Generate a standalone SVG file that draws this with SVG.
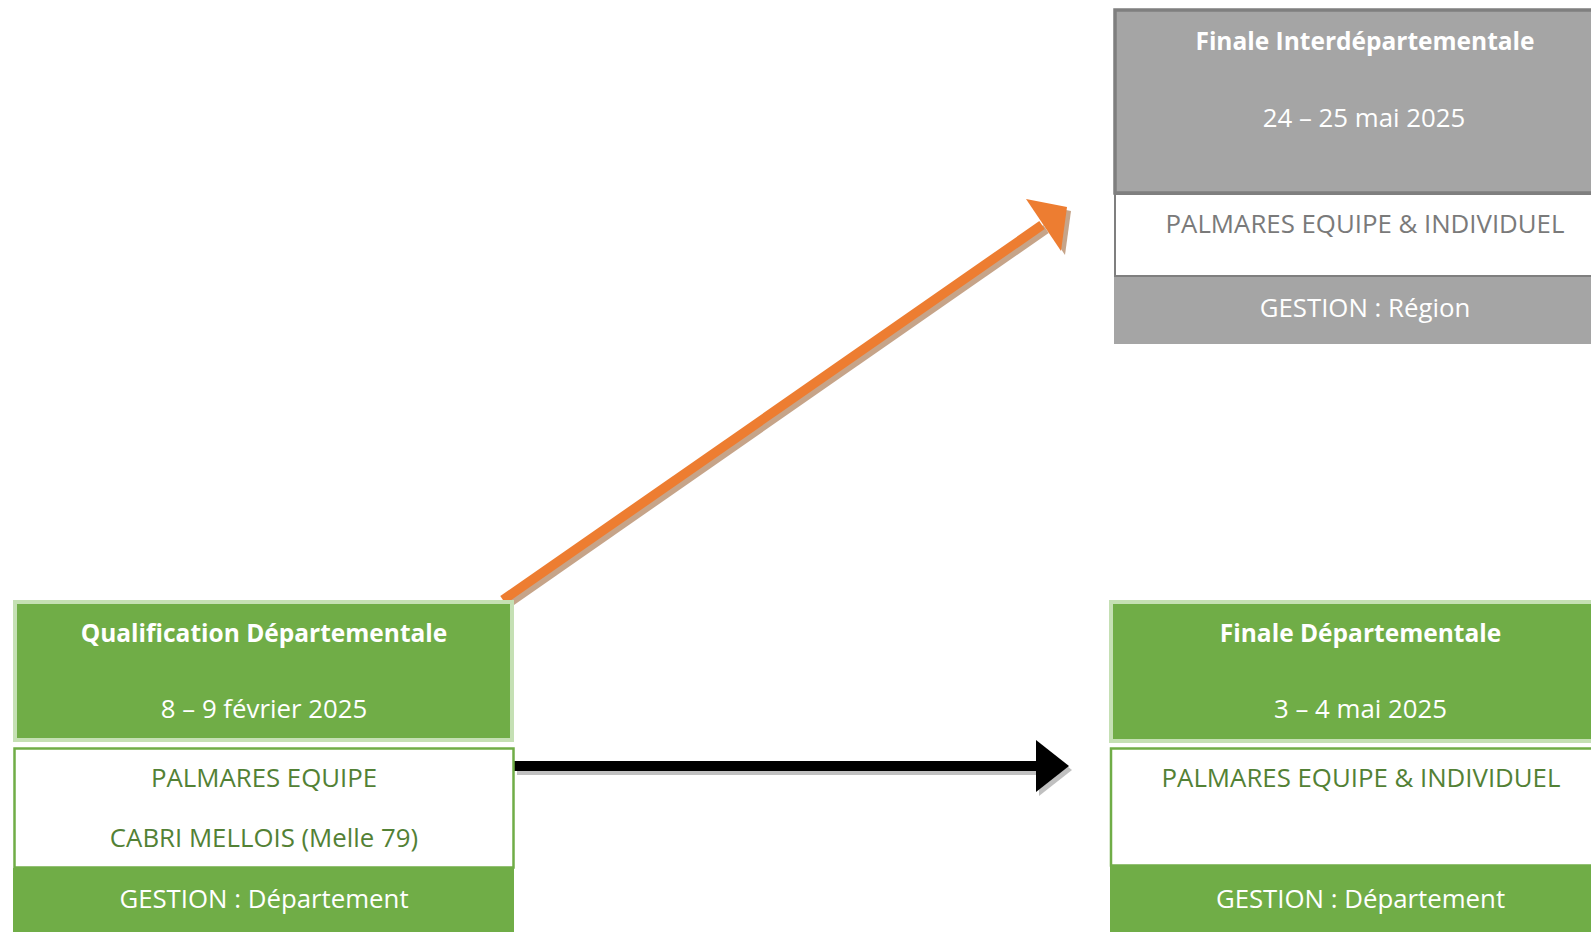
<svg xmlns="http://www.w3.org/2000/svg" width="1591" height="932" viewBox="0 0 1591 932">
<style>
text{font-family:"Open Sans","Liberation Sans",sans-serif;font-size:25.8px;text-anchor:middle}
.b{font-weight:bold;font-size:24.5px}
.w{fill:#ffffff}
.g{fill:#538135}
.gr{fill:#7a7a7a}
.ghead{fill:#70ad47;stroke:#c5e0b4;stroke-width:4}
.gmid{fill:#ffffff;stroke:#70ad47;stroke-width:2.5}
.gfoot{fill:#70ad47}
.rhead{fill:#a5a5a5;stroke:#7f7f7f;stroke-width:3.5}
.rmid{fill:#ffffff;stroke:#7f7f7f;stroke-width:2}
.rfoot{fill:#a5a5a5}
</style>
<rect width="1591" height="932" fill="#ffffff"/>
<g id="connectors">
  <g id="arrow-orange">
    <line x1="507" y1="604" x2="1046" y2="229" stroke="#c6a489" stroke-width="9.5"/>
    <polygon points="1030,203 1071,211 1065,255" fill="#c6a489"/>
    <line x1="503" y1="600" x2="1042" y2="225" stroke="#ed7d31" stroke-width="9.5"/>
    <polygon points="1026,199 1067,207 1061,251" fill="#ed7d31"/>
  </g>
  <g id="arrow-black">
    <rect x="517" y="765" width="523" height="10" fill="#c0c0c0"/>
    <polygon points="1039,744 1072,770 1039,796" fill="#c0c0c0"/>
    <rect x="514" y="761" width="523" height="10" fill="#000000"/>
    <polygon points="1036,740 1069,766 1036,792" fill="#000000"/>
  </g>
</g>
<g id="node-qualification">
  <rect class="ghead" x="15" y="602" width="497" height="138"/>
  <rect class="gmid" x="14.5" y="748.5" width="499" height="119"/>
  <rect class="gfoot" x="13" y="868" width="501" height="64"/>
  <text class="b w" x="264" y="642">Qualification Départementale</text>
  <text class="w" x="264" y="718">8 – 9 février 2025</text>
  <text class="g" x="264" y="787">PALMARES EQUIPE</text>
  <text class="g" x="264" y="847">CABRI MELLOIS (Melle 79)</text>
  <text class="w" x="264" y="908">GESTION : Département</text>
</g>
<g id="node-finale-dep">
  <rect class="ghead" x="1111" y="602" width="499" height="139"/>
  <rect class="gmid" x="1111" y="748.5" width="500" height="117"/>
  <rect class="gfoot" x="1110" y="866" width="501" height="66"/>
  <text class="b w" x="1360.5" y="642">Finale Départementale</text>
  <text class="w" x="1360.5" y="718">3 – 4 mai 2025</text>
  <text class="g" x="1361" y="787">PALMARES EQUIPE &amp; INDIVIDUEL</text>
  <text class="w" x="1360.5" y="908">GESTION : Département</text>
</g>
<g id="node-finale-interdep">
  <rect class="rhead" x="1115" y="10" width="500" height="183"/>
  <rect class="rmid" x="1115" y="194" width="500" height="82"/>
  <rect class="rfoot" x="1114" y="277" width="501" height="67"/>
  <text class="b w" x="1365" y="50">Finale Interdépartementale</text>
  <text class="w" x="1364" y="127">24 – 25 mai 2025</text>
  <text class="gr" x="1365" y="233">PALMARES EQUIPE &amp; INDIVIDUEL</text>
  <text class="w" x="1365" y="317">GESTION : Région</text>
</g>
</svg>
